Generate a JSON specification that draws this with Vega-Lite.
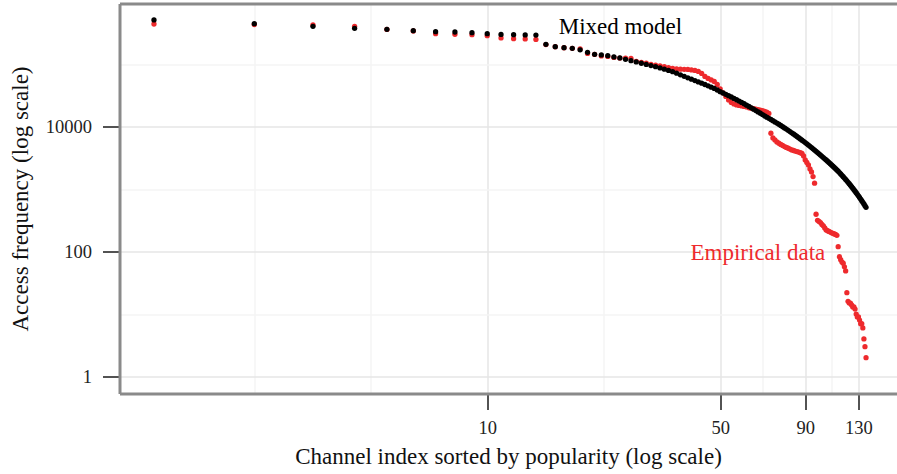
{
  "$schema": "https://vega.github.io/schema/vega-lite/v6.json",
  "width": 777,
  "height": 390,
  "autosize": {"type": "none"},
  "padding": {"left": 119.5, "top": 3.5, "right": 0, "bottom": 80.5},
  "background": "white",
  "config": {
    "view": {"stroke": null},
    "font": "Liberation Serif",
    "axis": {"labelFont": "Liberation Serif", "titleFont": "Liberation Serif", "titleFontWeight": "normal"},
    "axisLeft": {"tickSize": 17},
    "axisBottom": {"tickSize": 16}
  },
  "datasets": {
    "points": [
      {"series":"Empirical data","channel":1,"freq":439500},{"series":"Empirical data","channel":2,"freq":431500},{"series":"Empirical data","channel":3,"freq":424000},{"series":"Empirical data","channel":4,"freq":403600},{"series":"Empirical data","channel":5,"freq":360000},{"series":"Empirical data","channel":6,"freq":339600},{"series":"Empirical data","channel":7,"freq":307600},{"series":"Empirical data","channel":8,"freq":300600},{"series":"Empirical data","channel":9,"freq":296500},{"series":"Empirical data","channel":10,"freq":285800},
      {"series":"Empirical data","channel":11,"freq":262400},{"series":"Empirical data","channel":12,"freq":255900},{"series":"Empirical data","channel":13,"freq":252900},{"series":"Empirical data","channel":14,"freq":248300},{"series":"Empirical data","channel":15,"freq":206000},{"series":"Empirical data","channel":16,"freq":190000},{"series":"Empirical data","channel":17,"freq":183000},{"series":"Empirical data","channel":18,"freq":179000},{"series":"Empirical data","channel":19,"freq":175000},{"series":"Empirical data","channel":20,"freq":148300},
      {"series":"Empirical data","channel":21,"freq":142900},{"series":"Empirical data","channel":22,"freq":135200},{"series":"Empirical data","channel":23,"freq":132700},{"series":"Empirical data","channel":24,"freq":127900},{"series":"Empirical data","channel":25,"freq":125000},{"series":"Empirical data","channel":26,"freq":124500},{"series":"Empirical data","channel":27,"freq":123900},{"series":"Empirical data","channel":28,"freq":110400},{"series":"Empirical data","channel":29,"freq":106400},{"series":"Empirical data","channel":30,"freq":103300},
      {"series":"Empirical data","channel":31,"freq":99540},{"series":"Empirical data","channel":32,"freq":96380},{"series":"Empirical data","channel":33,"freq":93540},{"series":"Empirical data","channel":34,"freq":91200},{"series":"Empirical data","channel":35,"freq":87900},{"series":"Empirical data","channel":36,"freq":85310},{"series":"Empirical data","channel":37,"freq":83750},{"series":"Empirical data","channel":38,"freq":83180},{"series":"Empirical data","channel":39,"freq":82800},{"series":"Empirical data","channel":40,"freq":82220},
      {"series":"Empirical data","channel":41,"freq":80720},{"series":"Empirical data","channel":42,"freq":79250},{"series":"Empirical data","channel":43,"freq":76380},{"series":"Empirical data","channel":44,"freq":70960},{"series":"Empirical data","channel":45,"freq":63530},{"series":"Empirical data","channel":46,"freq":59020},{"series":"Empirical data","channel":47,"freq":55850},{"series":"Empirical data","channel":48,"freq":52840},{"series":"Empirical data","channel":49,"freq":47300},{"series":"Empirical data","channel":50,"freq":40090},
      {"series":"Empirical data","channel":51,"freq":34590},{"series":"Empirical data","channel":52,"freq":30410},{"series":"Empirical data","channel":53,"freq":26730},{"series":"Empirical data","channel":54,"freq":24380},{"series":"Empirical data","channel":55,"freq":23070},{"series":"Empirical data","channel":56,"freq":22230},{"series":"Empirical data","channel":57,"freq":21830},{"series":"Empirical data","channel":58,"freq":21430},{"series":"Empirical data","channel":59,"freq":21040},{"series":"Empirical data","channel":60,"freq":20650},
      {"series":"Empirical data","channel":61,"freq":20050},{"series":"Empirical data","channel":62,"freq":19680},{"series":"Empirical data","channel":63,"freq":19320},{"series":"Empirical data","channel":64,"freq":18970},{"series":"Empirical data","channel":65,"freq":18620},{"series":"Empirical data","channel":66,"freq":18280},{"series":"Empirical data","channel":67,"freq":17950},{"series":"Empirical data","channel":68,"freq":17500},{"series":"Empirical data","channel":69,"freq":16980},{"series":"Empirical data","channel":70,"freq":16260},
      {"series":"Empirical data","channel":71,"freq":7834},{"series":"Empirical data","channel":72,"freq":6592},{"series":"Empirical data","channel":73,"freq":6124},{"series":"Empirical data","channel":74,"freq":5689},{"series":"Empirical data","channel":75,"freq":5420},{"series":"Empirical data","channel":76,"freq":5188},{"series":"Empirical data","channel":77,"freq":5000},{"series":"Empirical data","channel":78,"freq":4786},{"series":"Empirical data","channel":79,"freq":4645},{"series":"Empirical data","channel":80,"freq":4508},
      {"series":"Empirical data","channel":81,"freq":4365},{"series":"Empirical data","channel":82,"freq":4236},{"series":"Empirical data","channel":83,"freq":4150},{"series":"Empirical data","channel":84,"freq":4055},{"series":"Empirical data","channel":85,"freq":3981},{"series":"Empirical data","channel":86,"freq":3908},{"series":"Empirical data","channel":87,"freq":3819},{"series":"Empirical data","channel":88,"freq":3724},{"series":"Empirical data","channel":89,"freq":3396},{"series":"Empirical data","channel":90,"freq":2931},
      {"series":"Empirical data","channel":91,"freq":2673},{"series":"Empirical data","channel":92,"freq":2438},{"series":"Empirical data","channel":93,"freq":2104},{"series":"Empirical data","channel":94,"freq":1884},{"series":"Empirical data","channel":95,"freq":1585},{"series":"Empirical data","channel":96,"freq":1242},{"series":"Empirical data","channel":97,"freq":396},{"series":"Empirical data","channel":98,"freq":316},{"series":"Empirical data","channel":99,"freq":304},{"series":"Empirical data","channel":100,"freq":291},
      {"series":"Empirical data","channel":101,"freq":272},{"series":"Empirical data","channel":102,"freq":258},{"series":"Empirical data","channel":103,"freq":239},{"series":"Empirical data","channel":104,"freq":222},{"series":"Empirical data","channel":105,"freq":216},{"series":"Empirical data","channel":106,"freq":210},{"series":"Empirical data","channel":107,"freq":205},{"series":"Empirical data","channel":108,"freq":200},{"series":"Empirical data","channel":109,"freq":196},{"series":"Empirical data","channel":110,"freq":192},
      {"series":"Empirical data","channel":111,"freq":188},{"series":"Empirical data","channel":112,"freq":182},{"series":"Empirical data","channel":113,"freq":120},{"series":"Empirical data","channel":114,"freq":83},{"series":"Empirical data","channel":115,"freq":74},{"series":"Empirical data","channel":116,"freq":68},{"series":"Empirical data","channel":117,"freq":65},{"series":"Empirical data","channel":118,"freq":57},{"series":"Empirical data","channel":119,"freq":49},{"series":"Empirical data","channel":120,"freq":22},
      {"series":"Empirical data","channel":121,"freq":16},{"series":"Empirical data","channel":122,"freq":15},{"series":"Empirical data","channel":123,"freq":15},{"series":"Empirical data","channel":124,"freq":14},{"series":"Empirical data","channel":125,"freq":13},{"series":"Empirical data","channel":126,"freq":13},{"series":"Empirical data","channel":127,"freq":12},{"series":"Empirical data","channel":128,"freq":10},{"series":"Empirical data","channel":129,"freq":9},{"series":"Empirical data","channel":130,"freq":9},
      {"series":"Empirical data","channel":131,"freq":8},{"series":"Empirical data","channel":132,"freq":7},{"series":"Empirical data","channel":133,"freq":7},{"series":"Empirical data","channel":134,"freq":6},{"series":"Empirical data","channel":135,"freq":4},{"series":"Empirical data","channel":136,"freq":3},{"series":"Empirical data","channel":137,"freq":2},
      {"series":"Mixed model","channel":1,"freq":509400},{"series":"Mixed model","channel":2,"freq":444600},{"series":"Mixed model","channel":3,"freq":403600},{"series":"Mixed model","channel":4,"freq":375000},{"series":"Mixed model","channel":5,"freq":361400},{"series":"Mixed model","channel":6,"freq":343600},{"series":"Mixed model","channel":7,"freq":331100},{"series":"Mixed model","channel":8,"freq":327300},{"series":"Mixed model","channel":9,"freq":319200},{"series":"Mixed model","channel":10,"freq":307600},
      {"series":"Mixed model","channel":11,"freq":299000},{"series":"Mixed model","channel":12,"freq":296000},{"series":"Mixed model","channel":13,"freq":294000},{"series":"Mixed model","channel":14,"freq":292000},{"series":"Mixed model","channel":15,"freq":207500},{"series":"Mixed model","channel":16,"freq":190500},{"series":"Mixed model","channel":17,"freq":183600},{"series":"Mixed model","channel":18,"freq":179500},{"series":"Mixed model","channel":19,"freq":169500},{"series":"Mixed model","channel":20,"freq":154900},
      {"series":"Mixed model","channel":21,"freq":143900},{"series":"Mixed model","channel":22,"freq":140300},{"series":"Mixed model","channel":23,"freq":136800},{"series":"Mixed model","channel":24,"freq":130300},{"series":"Mixed model","channel":25,"freq":125600},{"series":"Mixed model","channel":26,"freq":119400},{"series":"Mixed model","channel":27,"freq":113800},{"series":"Mixed model","channel":28,"freq":108400},{"series":"Mixed model","channel":29,"freq":103300},{"series":"Mixed model","channel":30,"freq":98860},
      {"series":"Mixed model","channel":31,"freq":94840},{"series":"Mixed model","channel":32,"freq":91200},{"series":"Mixed model","channel":33,"freq":87100},{"series":"Mixed model","channel":34,"freq":83180},{"series":"Mixed model","channel":35,"freq":79430},{"series":"Mixed model","channel":36,"freq":75860},{"series":"Mixed model","channel":37,"freq":71610},{"series":"Mixed model","channel":38,"freq":67610},{"series":"Mixed model","channel":39,"freq":63830},{"series":"Mixed model","channel":40,"freq":60530},
      {"series":"Mixed model","channel":41,"freq":57540},{"series":"Mixed model","channel":42,"freq":54700},{"series":"Mixed model","channel":43,"freq":52000},{"series":"Mixed model","channel":44,"freq":49550},{"series":"Mixed model","channel":45,"freq":47210},{"series":"Mixed model","channel":46,"freq":44980},{"series":"Mixed model","channel":47,"freq":42850},{"series":"Mixed model","channel":48,"freq":40930},{"series":"Mixed model","channel":49,"freq":38550},{"series":"Mixed model","channel":50,"freq":36310},
      {"series":"Mixed model","channel":51,"freq":34510},{"series":"Mixed model","channel":52,"freq":32890},{"series":"Mixed model","channel":53,"freq":31260},{"series":"Mixed model","channel":54,"freq":29790},{"series":"Mixed model","channel":55,"freq":28310},{"series":"Mixed model","channel":56,"freq":26920},{"series":"Mixed model","channel":57,"freq":25640},{"series":"Mixed model","channel":58,"freq":24380},{"series":"Mixed model","channel":59,"freq":23230},{"series":"Mixed model","channel":60,"freq":22080},
      {"series":"Mixed model","channel":61,"freq":20990},{"series":"Mixed model","channel":62,"freq":20000},{"series":"Mixed model","channel":63,"freq":19010},{"series":"Mixed model","channel":64,"freq":18070},{"series":"Mixed model","channel":65,"freq":17220},{"series":"Mixed model","channel":66,"freq":16370},{"series":"Mixed model","channel":67,"freq":15600},{"series":"Mixed model","channel":68,"freq":14830},{"series":"Mixed model","channel":69,"freq":14190},{"series":"Mixed model","channel":70,"freq":13580},
      {"series":"Mixed model","channel":71,"freq":13000},{"series":"Mixed model","channel":72,"freq":12450},{"series":"Mixed model","channel":73,"freq":11910},{"series":"Mixed model","channel":74,"freq":11400},{"series":"Mixed model","channel":75,"freq":10910},{"series":"Mixed model","channel":76,"freq":10450},{"series":"Mixed model","channel":77,"freq":10000},{"series":"Mixed model","channel":78,"freq":9550},{"series":"Mixed model","channel":79,"freq":9141},{"series":"Mixed model","channel":80,"freq":8730},
      {"series":"Mixed model","channel":81,"freq":8337},{"series":"Mixed model","channel":82,"freq":7962},{"series":"Mixed model","channel":83,"freq":7621},{"series":"Mixed model","channel":84,"freq":7278},{"series":"Mixed model","channel":85,"freq":6950},{"series":"Mixed model","channel":86,"freq":6653},{"series":"Mixed model","channel":87,"freq":6353},{"series":"Mixed model","channel":88,"freq":6067},{"series":"Mixed model","channel":89,"freq":5808},{"series":"Mixed model","channel":90,"freq":5546},
      {"series":"Mixed model","channel":91,"freq":5297},{"series":"Mixed model","channel":92,"freq":5058},{"series":"Mixed model","channel":93,"freq":4831},{"series":"Mixed model","channel":94,"freq":4613},{"series":"Mixed model","channel":95,"freq":4406},{"series":"Mixed model","channel":96,"freq":4207},{"series":"Mixed model","channel":97,"freq":4027},{"series":"Mixed model","channel":98,"freq":3846},{"series":"Mixed model","channel":99,"freq":3673},{"series":"Mixed model","channel":100,"freq":3508},
      {"series":"Mixed model","channel":101,"freq":3350},{"series":"Mixed model","channel":102,"freq":3199},{"series":"Mixed model","channel":103,"freq":3055},{"series":"Mixed model","channel":104,"freq":2924},{"series":"Mixed model","channel":105,"freq":2793},{"series":"Mixed model","channel":106,"freq":2667},{"series":"Mixed model","channel":107,"freq":2547},{"series":"Mixed model","channel":108,"freq":2432},{"series":"Mixed model","channel":109,"freq":2323},{"series":"Mixed model","channel":110,"freq":2218},
      {"series":"Mixed model","channel":111,"freq":2123},{"series":"Mixed model","channel":112,"freq":2028},{"series":"Mixed model","channel":113,"freq":1932},{"series":"Mixed model","channel":114,"freq":1841},{"series":"Mixed model","channel":115,"freq":1750},{"series":"Mixed model","channel":116,"freq":1663},{"series":"Mixed model","channel":117,"freq":1581},{"series":"Mixed model","channel":118,"freq":1503},{"series":"Mixed model","channel":119,"freq":1429},{"series":"Mixed model","channel":120,"freq":1355},
      {"series":"Mixed model","channel":121,"freq":1285},{"series":"Mixed model","channel":122,"freq":1219},{"series":"Mixed model","channel":123,"freq":1156},{"series":"Mixed model","channel":124,"freq":1094},{"series":"Mixed model","channel":125,"freq":1035},{"series":"Mixed model","channel":126,"freq":979},{"series":"Mixed model","channel":127,"freq":927},{"series":"Mixed model","channel":128,"freq":875},{"series":"Mixed model","channel":129,"freq":826},{"series":"Mixed model","channel":130,"freq":780},
      {"series":"Mixed model","channel":131,"freq":736},{"series":"Mixed model","channel":132,"freq":693},{"series":"Mixed model","channel":133,"freq":653},{"series":"Mixed model","channel":134,"freq":615},{"series":"Mixed model","channel":135,"freq":578},{"series":"Mixed model","channel":136,"freq":543},{"series":"Mixed model","channel":137,"freq":511}
    ],
    "labels": [
      {"series":"Mixed model","channel":25.1,"freq":393600},
      {"series":"Empirical data","channel":64.9,"freq":95.3}
    ]
  },
  "resolve": {"axis": {"x": "independent", "y": "independent"}},
  "layer": [
    {
      "data": {"name": "points"},
      "mark": {"type": "circle", "size": 28, "opacity": 1},
      "encoding": {
        "x": {
          "field": "channel", "type": "quantitative",
          "scale": {"type": "log", "domain": [0.788, 169.1], "nice": false},
          "axis": {
            "orient": "bottom", "values": [10, 50, 90, 130], "format": "d",
            "title": "Channel index sorted by popularity (log scale)",
            "grid": true, "gridColor": "#e6e6e6", "gridWidth": 1.5,
            "domainColor": "#8a8a8a", "domainWidth": 3,
            "ticks": true, "tickColor": "#1a1a1a", "tickWidth": 1.5, "tickSize": 16,
            "labelFontSize": 18.5, "labelColor": "#222222", "labelPadding": 9, "labelFlush": false,
            "titleFontSize": 23, "titleColor": "#111111", "titlePadding": 8
          }
        },
        "y": {
          "field": "freq", "type": "quantitative",
          "scale": {"type": "log", "domain": [0.535, 935000], "nice": false},
          "axis": {
            "orient": "left", "values": [1, 100, 10000], "format": "d",
            "title": "Access frequency (log scale)",
            "grid": true, "gridColor": "#e6e6e6", "gridWidth": 1.5,
            "domainColor": "#8a8a8a", "domainWidth": 3,
            "ticks": true, "tickColor": "#1a1a1a", "tickWidth": 1.5, "tickSize": 17,
            "labelFontSize": 18.5, "labelColor": "#222222", "labelPadding": 11,
            "titleFontSize": 23, "titleColor": "#111111", "titlePadding": 13
          }
        },
        "color": {
          "field": "series", "type": "nominal",
          "scale": {"domain": ["Empirical data", "Mixed model"], "range": ["#ee2a2d", "#000000"]},
          "legend": null
        }
      }
    },
    {
      "data": {"name": "labels"},
      "mark": {"type": "text", "fontSize": 23, "font": "Liberation Serif", "align": "center", "baseline": "middle"},
      "encoding": {
        "x": {
          "field": "channel", "type": "quantitative",
          "scale": {"type": "log", "domain": [0.788, 169.1], "nice": false},
          "axis": {
            "orient": "top", "values": [2, 4.472, 22.36, 67.08, 108.17],
            "grid": true, "gridColor": "#f4f4f4", "gridWidth": 1.5,
            "labels": false, "ticks": false, "title": null,
            "domainColor": "#8a8a8a", "domainWidth": 3
          }
        },
        "y": {
          "field": "freq", "type": "quantitative",
          "scale": {"type": "log", "domain": [0.535, 935000], "nice": false},
          "axis": {
            "orient": "right", "values": [10, 1000, 100000],
            "grid": true, "gridColor": "#f4f4f4", "gridWidth": 1.5,
            "labels": false, "ticks": false, "title": null, "domain": false
          }
        },
        "text": {"field": "series", "type": "nominal"},
        "color": {"field": "series", "type": "nominal", "legend": null}
      }
    }
  ]
}
